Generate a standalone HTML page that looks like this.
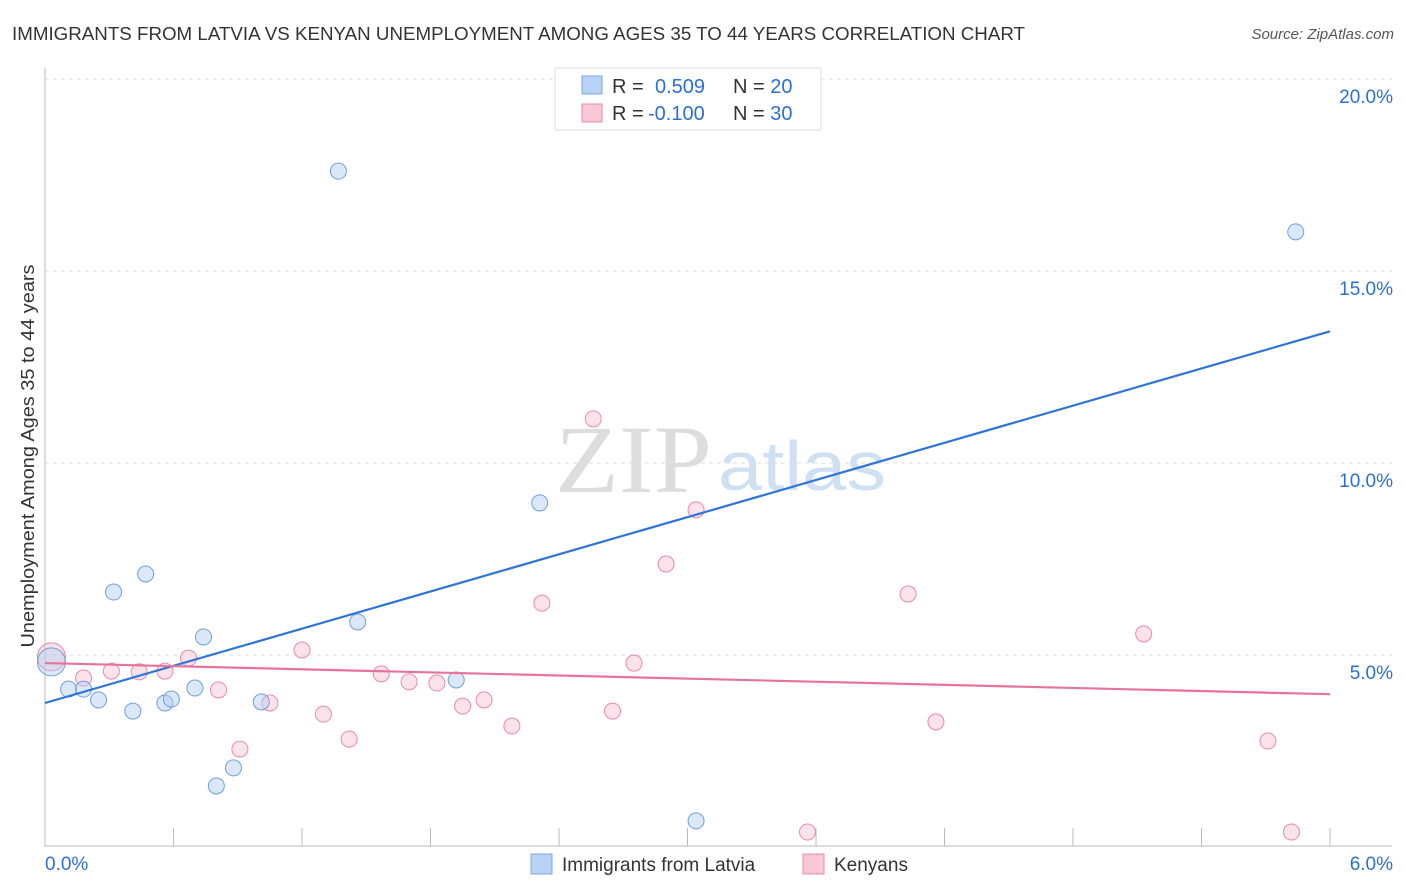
<!DOCTYPE html>
<html><head><meta charset="utf-8">
<style>
body{margin:0;background:#fff;font-family:"Liberation Sans",sans-serif;}
svg{display:block}
</style></head>
<body>
<svg id="chart" width="1406" height="892">
<text x="12" y="40" font-size="18" fill="#333" textLength="1013" lengthAdjust="spacingAndGlyphs">IMMIGRANTS FROM LATVIA VS KENYAN UNEMPLOYMENT AMONG AGES 35 TO 44 YEARS CORRELATION CHART</text>
<text x="1394" y="39" font-size="15" fill="#555" text-anchor="end" font-style="italic">Source: ZipAtlas.com</text>
<text transform="translate(34,456) rotate(-90)" font-size="18" fill="#333" text-anchor="middle" textLength="383" lengthAdjust="spacingAndGlyphs">Unemployment Among Ages 35 to 44 years</text>
<g id="grid"></g>
<text x="555" y="492" font-size="96" fill="#ddd" font-family="Liberation Serif,serif" textLength="157" lengthAdjust="spacingAndGlyphs">ZIP</text>
<text x="718" y="490" font-size="70" fill="#cfe0f3" textLength="168" lengthAdjust="spacingAndGlyphs">atlas</text>
<g id="marks"></g>
<g>
<rect x="555" y="68" width="266" height="62" fill="#fff" stroke="#ddd"/>
<rect x="582" y="76" width="20" height="18" fill="#b8d3f5" stroke="#7aa6e0"/>
<text x="612" y="93" font-size="20" fill="#333">R = <tspan x="655" fill="#2c6fd6">0.509</tspan><tspan x="733">N = </tspan><tspan fill="#2c6fd6">20</tspan></text>
<rect x="582" y="104" width="20" height="18" fill="#f8c8d6" stroke="#e88aaa"/>
<text x="612" y="120" font-size="20" fill="#333">R = <tspan x="648" fill="#2c6fd6">-0.100</tspan><tspan x="733">N = </tspan><tspan fill="#2c6fd6">30</tspan></text>
</g>
<g>
<rect x="531" y="854" width="21" height="20" fill="#b8d3f5" stroke="#7aa6e0"/>
<text x="562" y="871" font-size="19" fill="#333">Immigrants from Latvia</text>
<rect x="803" y="854" width="21" height="20" fill="#f8c8d6" stroke="#e88aaa"/>
<text x="834" y="871" font-size="19" fill="#333">Kenyans</text>
</g>
</svg>
<script>
const xTicks=[0,0.6,1.2,1.8,2.4,3.0,3.6,4.2,4.8,5.4,6.0];
const yTicks=[5,10,15,20];
const blueX=[0.03,0.11,0.18,0.25,0.32,0.41,0.47,0.56,0.59,0.70,0.74,0.80,0.88,1.01,1.37,1.46,1.92,2.31,3.04,5.84];
const blueY=[4.82,4.11,4.11,3.83,6.64,3.54,7.11,3.75,3.85,4.14,5.47,1.59,2.06,3.78,17.6,5.86,4.35,8.96,0.68,16.02];
const pinkX=[0.03,0.18,0.31,0.44,0.56,0.67,0.81,0.91,1.05,1.20,1.30,1.42,1.57,1.70,1.83,1.95,2.05,2.18,2.32,2.56,2.65,2.75,2.90,3.04,3.56,4.03,4.16,5.13,5.71,5.82];
const pinkY=[4.95,4.40,4.58,4.56,4.58,4.92,4.09,2.55,3.75,5.13,3.46,2.81,4.51,4.30,4.27,3.67,3.83,3.15,6.35,11.15,3.54,4.79,7.37,8.78,0.39,6.59,3.26,5.55,2.76,0.39];
const blueTrend=[3.75,13.43];
const pinkTrend=[4.79,3.98];
const NS='http://www.w3.org/2000/svg';
const X=v=>45+v/6*1285;
const Y=v=>847-v*38.4;
function mk(tag,attrs,parent){const e=document.createElementNS(NS,tag);for(const k in attrs)e.setAttribute(k,attrs[k]);parent.appendChild(e);return e;}
const grid=document.getElementById('grid');
const marks=document.getElementById('marks');
yTicks.forEach(t=>{
  const l=mk('line',{x1:45,x2:1392,y1:Y(t),y2:Y(t),stroke:'#ddd','stroke-dasharray':'4,4'},grid);
  
  
  const tx=mk('text',{x:1393,y:Y(t)+24,'font-size':19,fill:'#2c6fd6','text-anchor':'end'},grid);
  tx.textContent=t.toFixed(1)+'%';
  
  
});
const ax=mk('line',{x1:45,x2:45,y1:68,y2:847,stroke:'#bbb'},grid);


const bx=mk('line',{x1:45,x2:1392,y1:846,y2:846,stroke:'#bbb'},grid);


xTicks.forEach(t=>{
  const l=mk('line',{x1:X(t),x2:X(t),y1:828,y2:846,stroke:'#bbb'},grid);
  
  
});
[[0,'0.0%',45,'start'],[6,'6.0%',1393,'end']].forEach(a=>{
  const tx=mk('text',{x:a[2],y:870,'font-size':19,fill:'#2c6fd6','text-anchor':a[3]},grid);
  tx.textContent=a[1];
  
  
});
function pts(xs,ys,fill,stroke,name){
  xs.forEach((x,i)=>{
    const r=i===0?14:8;
    const c=mk('circle',{cx:X(x),cy:Y(ys[i]),r:r,fill:fill,'fill-opacity':0.45,stroke:stroke,'stroke-width':1},marks);
    
    
  });
}
pts(pinkX,pinkY,'#f8c0d2','#e88aaa','kenyans-point');
pts(blueX,blueY,'#b0cdf3','#6f9fdc','latvia-point');
const bl=mk('line',{x1:X(0),y1:Y(blueTrend[0]),x2:X(6),y2:Y(blueTrend[1]),stroke:'#2f74d8','stroke-width':2.2},marks);


const pl=mk('line',{x1:X(0),y1:Y(pinkTrend[0]),x2:X(6),y2:Y(pinkTrend[1]),stroke:'#e8739a','stroke-width':2.2},marks);


</script>
</body></html>
